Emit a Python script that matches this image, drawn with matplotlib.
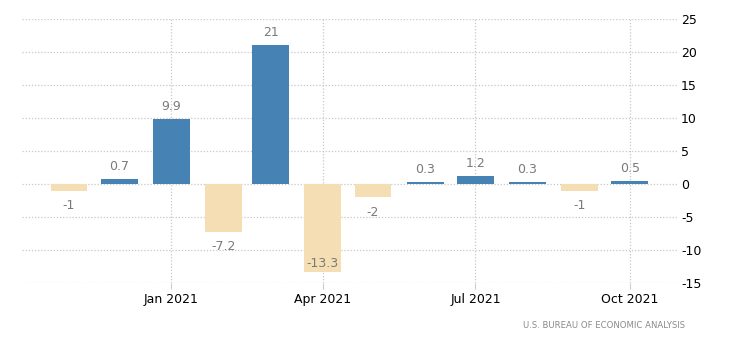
import matplotlib
matplotlib.use("Agg")
import matplotlib.pyplot as plt
import matplotlib.dates as mdates
import numpy as np
from datetime import datetime, timedelta

plt.rcParams["axes.unicode_minus"] = False

months = ["2020-11", "2020-12", "2021-01", "2021-02", "2021-03", "2021-04",
          "2021-05", "2021-06", "2021-07", "2021-08", "2021-09", "2021-10"]
values = [-1, 0.7, 9.9, -7.2, 21, -13.3, -2, 0.3, 1.2, 0.3, -1, 0.5]
labels = ["-1", "0.7", "9.9", "-7.2", "21", "-13.3", "-2", "0.3", "1.2", "0.3", "-1", "0.5"]
tick_dates = ["2021-01", "2021-04", "2021-07", "2021-10"]
tick_labels = ["Jan 2021", "Apr 2021", "Jul 2021", "Oct 2021"]
yticks = [-15, -10, -5, 0, 5, 10, 15, 20, 25]
source = "U.S. BUREAU OF ECONOMIC ANALYSIS"

pos_color = "#4682B4"
neg_color = "#F5DEB3"

dates = [datetime.strptime(m, "%Y-%m") for m in months]
tdates = [datetime.strptime(m, "%Y-%m") for m in tick_dates]

fig = plt.figure(figsize=(7.3, 3.46), dpi=100)
ax = fig.add_axes([22/730, (346-283)/346, (677-22)/730, (283-19)/346])

colors = [pos_color if v >= 0 else neg_color for v in values]
ax.bar(dates, values, width=22, color=colors, zorder=3)

ax.set_ylim(-15, 25)
ax.set_xlim(datetime(2020, 10, 4), datetime(2021, 10, 29))

# value labels
ymin = -15
for d, v, lab in zip(dates, values, labels):
    if v >= 0:
        ax.annotate(lab, (d, v), xytext=(0, 9), textcoords="offset points",
                    ha="center", va="center", fontsize=9, color="#7a7a7a")
    else:
        # below the bar unless it would leave the plot area
        if v - 2.3 < ymin:
            ax.annotate(lab, (d, v), xytext=(0, 6), textcoords="offset points",
                        ha="center", va="center", fontsize=9, color="#7a7a7a", zorder=4)
        else:
            ax.annotate(lab, (d, v), xytext=(0, -11), textcoords="offset points",
                        ha="center", va="center", fontsize=9, color="#7a7a7a")

ax.set_yticks(yticks)
ax.yaxis.tick_right()
ax.tick_params(axis="y", length=0, pad=3, labelsize=9, labelcolor="black")
for lab in ax.get_yticklabels():
    lab.set_horizontalalignment("left")

ax.set_xticks(tdates)
ax.set_xticklabels(tick_labels)
ax.tick_params(axis="x", length=4, width=0.8, color="#cccccc", pad=3, labelsize=9, labelcolor="black")

ax.grid(True, axis="both", linestyle=(0, (1, 1.5)), color="#c8c8c8", linewidth=0.9, zorder=0)
ax.set_axisbelow(True)
for s in ax.spines.values():
    s.set_visible(False)

fig.text(685/730, 1 - 325/346, source, ha="right", va="center", fontsize=6.1, color="#8a8a8a")

fig.savefig("out.png", dpi=100)
